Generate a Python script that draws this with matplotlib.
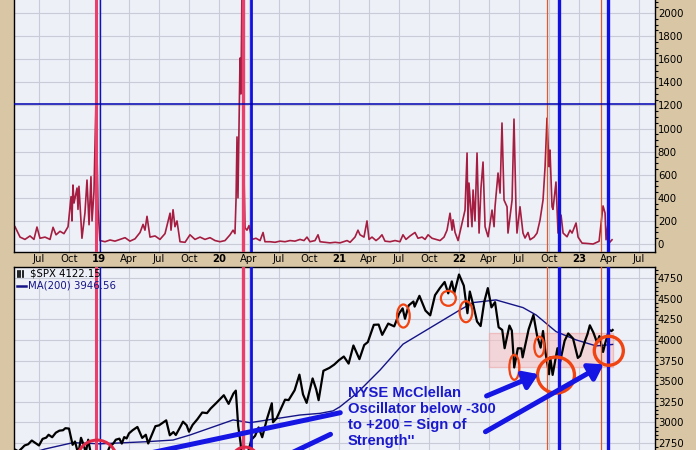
import matplotlib
matplotlib.use('Agg')
import matplotlib.pyplot as plt
from matplotlib.patches import Ellipse, Rectangle, FancyArrowPatch

# --- datos (fecha en anos decimales) ---
osc_t = [2018.300, 2018.342, 2018.383, 2018.425, 2018.458, 2018.483, 2018.508, 2018.550,
         2018.592, 2018.617, 2018.642, 2018.675, 2018.708, 2018.742, 2018.767, 2018.775,
         2018.783, 2018.792, 2018.817, 2018.825, 2018.833, 2018.858, 2018.883, 2018.900,
         2018.917, 2018.933, 2018.942, 2018.958, 2018.975, 2018.983, 2018.992, 2019.008,
         2019.050, 2019.092, 2019.133, 2019.175, 2019.217, 2019.258, 2019.300, 2019.342,
         2019.367, 2019.383, 2019.400, 2019.425, 2019.467, 2019.508, 2019.550, 2019.592,
         2019.600, 2019.617, 2019.633, 2019.650, 2019.675, 2019.717, 2019.758, 2019.800,
         2019.842, 2019.883, 2019.925, 2019.967, 2020.008, 2020.050, 2020.075, 2020.092,
         2020.117, 2020.133, 2020.142, 2020.150, 2020.158, 2020.175, 2020.183, 2020.192,
         2020.200, 2020.208, 2020.217, 2020.233, 2020.250, 2020.275, 2020.308, 2020.342,
         2020.367, 2020.383, 2020.425, 2020.467, 2020.508, 2020.550, 2020.592, 2020.633,
         2020.675, 2020.708, 2020.733, 2020.758, 2020.800, 2020.825, 2020.842, 2020.883,
         2020.925, 2020.967, 2021.008, 2021.067, 2021.092, 2021.133, 2021.158, 2021.175,
         2021.208, 2021.233, 2021.250, 2021.275, 2021.308, 2021.333, 2021.358, 2021.383,
         2021.425, 2021.467, 2021.508, 2021.533, 2021.558, 2021.592, 2021.633, 2021.658,
         2021.692, 2021.717, 2021.742, 2021.775, 2021.808, 2021.842, 2021.875, 2021.900,
         2021.925, 2021.942, 2021.950, 2021.967, 2021.992, 2022.025, 2022.050, 2022.067,
         2022.075, 2022.083, 2022.108, 2022.117, 2022.133, 2022.150, 2022.167, 2022.183,
         2022.200, 2022.217, 2022.242, 2022.275, 2022.292, 2022.300, 2022.325, 2022.342,
         2022.358, 2022.375, 2022.400, 2022.408, 2022.442, 2022.458, 2022.475, 2022.483,
         2022.508, 2022.533, 2022.550, 2022.575, 2022.592, 2022.625, 2022.650, 2022.675,
         2022.700, 2022.717, 2022.733, 2022.750, 2022.758, 2022.775, 2022.783, 2022.808,
         2022.825, 2022.850, 2022.867, 2022.900, 2022.925, 2022.942, 2022.975, 2022.992,
         2023.025, 2023.067, 2023.117, 2023.167, 2023.200, 2023.217, 2023.225, 2023.242,
         2023.250, 2023.275]
osc_v = [150, 60, 40, 70, 40, 147, 50, 60,
         40, 145, 80, 110, 90, 150, 410, 200,
         511, 355, 485, 300, 500, 50, 270, 554,
         167, 583, 200, 450, 1250, 800, 300, 30,
         20, 35, 25, 40, 55, 25, 45, 100,
         170, 120, 240, 60, 70, 40, 90, 267,
         120, 297, 150, 200, 20, 15, 80, 40,
         60, 40, 55, 30, 20, 30, 60, 80,
         120, 90, 390, 927, 400, 1610, 1300, 2300,
         1900, 600, 140, 120, 160, 40, 50, 30,
         100, 20, 20, 15, 25, 20, 30, 25,
         40, 30, 60, 20, 30, 80, 20, 15,
         10, 15, 10, 30, 15, 60, 120, 80,
         60, 200, 40, 60, 30, 50, 80, 25,
         20, 30, 20, 80, 40, 70, 100, 50,
         60, 40, 80, 50, 40, 30, 60, 120,
         267, 120, 210, 100, 30, 182, 294, 788,
         150, 528, 150, 468, 200, 788, 95, 485,
         710, 150, 63, 294, 150, 323, 615, 441,
         1048, 381, 323, 95, 381, 1082, 294, 95,
         323, 95, 52, 100, 37, 60, 95, 208,
         381, 670, 1090, 670, 814, 323, 300, 537,
         95, 251, 95, 63, 120, 95, 182, 60,
         8, 5, 0, 24, 330, 268, 37, 182,
         8, 37]

spx_t = [2018.30, 2018.33, 2018.36, 2018.38, 2018.41, 2018.44, 2018.47, 2018.50, 2018.53, 2018.56,
         2018.58, 2018.61, 2018.64, 2018.67, 2018.70, 2018.72, 2018.75, 2018.78, 2018.80, 2018.82,
         2018.83, 2018.85, 2018.87, 2018.89, 2018.91, 2018.93, 2018.95, 2018.98, 2019.00, 2019.04,
         2019.07, 2019.09, 2019.12, 2019.14, 2019.17, 2019.19, 2019.21, 2019.23, 2019.25, 2019.28,
         2019.32, 2019.36, 2019.39, 2019.41, 2019.45, 2019.47, 2019.50, 2019.53, 2019.56, 2019.59,
         2019.62, 2019.64, 2019.67, 2019.70, 2019.73, 2019.75, 2019.78, 2019.82, 2019.86, 2019.90,
         2019.93, 2019.98, 2020.04, 2020.08, 2020.12, 2020.14, 2020.16, 2020.18, 2020.20, 2020.22,
         2020.24, 2020.27, 2020.30, 2020.33, 2020.36, 2020.40, 2020.44, 2020.45, 2020.48, 2020.50,
         2020.55, 2020.58, 2020.63, 2020.67, 2020.70, 2020.73, 2020.78, 2020.81, 2020.83, 2020.87,
         2020.92, 2020.96, 2021.00, 2021.04, 2021.08, 2021.12, 2021.17, 2021.21, 2021.24, 2021.29,
         2021.33, 2021.36, 2021.41, 2021.46, 2021.50, 2021.53, 2021.55, 2021.58, 2021.62, 2021.63,
         2021.67, 2021.72, 2021.76, 2021.80, 2021.84, 2021.88, 2021.91, 2021.94, 2021.96, 2022.00,
         2022.04, 2022.07, 2022.09, 2022.12, 2022.15, 2022.18, 2022.21, 2022.24, 2022.27, 2022.30,
         2022.33, 2022.36, 2022.38, 2022.42, 2022.44, 2022.46, 2022.49, 2022.52, 2022.53, 2022.58,
         2022.62, 2022.65, 2022.68, 2022.70, 2022.72, 2022.75, 2022.76, 2022.78, 2022.82, 2022.84,
         2022.88, 2022.91, 2022.95, 2022.99, 2023.01, 2023.05, 2023.07, 2023.09, 2023.12, 2023.15,
         2023.17, 2023.20, 2023.22, 2023.25, 2023.27, 2023.28]
spx_v = [2670, 2648, 2690, 2720, 2735, 2780, 2750, 2720, 2800, 2815,
         2850, 2820, 2875, 2900, 2905, 2930, 2925, 2728, 2768, 2656,
         2641, 2813, 2736, 2632, 2790, 2633, 2545, 2351, 2507, 2596,
         2640, 2706, 2745, 2790, 2803, 2743, 2822, 2805, 2867, 2905,
         2945, 2812, 2850, 2744, 2886, 2954, 2964, 2995, 3025, 2844,
         2883, 2847, 2926, 3009, 2966, 2887, 2970, 3039, 3120, 3113,
         3168, 3240, 3330, 3225, 3350, 3386, 2954, 2746, 2386, 2237,
         2630, 2790, 2836, 2939, 2820, 3044, 3232, 3002, 3050, 3115,
         3276, 3271, 3390, 3580, 3340, 3237, 3534, 3400, 3270, 3627,
         3662, 3702, 3756, 3800, 3714, 3934, 3768, 3940, 3975, 4185,
         4188, 4063, 4200, 4166, 4320, 4385, 4258, 4420, 4468, 4406,
         4537, 4358, 4300, 4545, 4630, 4705, 4567, 4712, 4568, 4796,
         4660, 4326, 4589, 4418, 4225, 4170, 4463, 4631, 4397, 4460,
         4155, 4123, 3901, 4176, 4115, 3667, 3900, 3899, 3790, 4130,
         4305, 4057, 3908, 4110, 3855, 3585, 3791, 3577, 3901, 3720,
         3992, 4080, 4019, 3783, 3808, 3990, 4070, 4179, 4090, 3970,
         4048, 3855, 3970, 4124, 4109, 4122.15]

ma_t = [2018.42, 2018.55, 2018.783, 2019.008, 2019.40, 2019.617, 2019.758, 2020.117, 2020.258,
        2020.675, 2020.842, 2020.95, 2021.008, 2021.15, 2021.342, 2021.533, 2022.008, 2022.117,
        2022.308, 2022.533, 2022.642, 2022.808, 2022.975, 2023.142, 2023.28]
ma_v = [2620, 2677, 2754, 2740, 2766, 2786, 2847, 3030, 2997,
        3090, 3110, 3140, 3190, 3356, 3636, 3950, 4366, 4455,
        4487, 4394, 4305, 4103, 4002, 3929, 3946.56]

tick_pos = [2018.5, 2018.75, 2019, 2019.25, 2019.5, 2019.75, 2020, 2020.25, 2020.5, 2020.75,
            2021, 2021.25, 2021.5, 2021.75, 2022, 2022.25, 2022.5, 2022.75, 2023, 2023.25, 2023.5]
tick_lab = ['Jul', 'Oct', '19', 'Apr', 'Jul', 'Oct', '20', 'Apr', 'Jul', 'Oct',
            '21', 'Apr', 'Jul', 'Oct', '22', 'Apr', 'Jul', 'Oct', '23', 'Apr', 'Jul']

# lineas verticales: (fecha, color, grosor)
vlines = [(2018.971, '#e8406a', 2.2), (2019.008, '#1010c0', 1.0),
          (2020.203, '#e8406a', 2.4), (2020.264, '#1010e0', 2.0),
          (2022.736, '#e05a30', 0.9), (2022.831, '#1010e0', 2.4),
          (2023.186, '#e05a30', 0.9), (2023.242, '#1010e0', 2.4)]

beige = '#d9c6a5'
fondo = '#eef0f8'
rejilla = '#c9cbd6'

fig = plt.figure(figsize=(6.96, 4.5), dpi=100, facecolor=beige)
ax1 = fig.add_axes([14/696, 1 - 252/450, 641/696, 252/450])
ax2 = fig.add_axes([14/696, 0, 641/696, 183/450])

for ax in (ax1, ax2):
    ax.set_facecolor(fondo)
    ax.set_xlim(2018.2917, 2023.633)
    ax.set_xticks(tick_pos)
    ax.grid(True, color=rejilla, lw=0.8)
    ax.set_axisbelow(True)
    ax.yaxis.tick_right()
    ax.tick_params(axis='y', labelsize=7.3, pad=2, length=0)
    ax.tick_params(axis='y', which='minor', length=2, width=0.8, direction='out')
    for s in ax.spines.values():
        s.set_color('black')
        s.set_linewidth(1.0)
    for x, c, w in vlines:
        ax.axvline(x, color=c, lw=w, zorder=3)

# panel superior
ax1.plot(osc_t, osc_v, color='#a51d40', lw=1.2, zorder=2)
ax1.axhline(1213, color='#0000b0', lw=1.1, zorder=3)
ax1.set_ylim(-69, 2113)
ax1.set_yticks(range(0, 2001, 200))
ax1.set_yticks(range(0, 2101, 50), minor=True)
ax1.spines['top'].set_visible(False)
ax1.tick_params(axis='x', length=0, pad=1.5, labelsize=7.3)
ax1.set_xticklabels(tick_lab)
for lab in ax1.get_xticklabels():
    if lab.get_text().isdigit():
        lab.set_fontweight('bold')

# panel inferior
ax2.add_patch(Rectangle((2022.25, 3669), 1.03, 420, facecolor='#f6c4c4', alpha=0.6,
                        edgecolor='#eaa6a6', lw=1, zorder=1.5))
ax2.plot(ma_t, ma_v, color='#141486', lw=1.0, zorder=2)
ax2.plot(spx_t, spx_v, color='black', lw=1.6, zorder=2)
ax2.set_ylim(2665, 4887)
ax2.set_yticks(range(2750, 4751, 250))
ax2.set_yticks(range(2700, 4851, 50), minor=True)
ax2.spines['bottom'].set_visible(False)
ax2.tick_params(axis='x', length=0, labelbottom=False)

# circulos
naranja = '#f04412'
circulos = [(2022.808, 3575, 0.308, 437, 2.4), (2023.248, 3870, 0.242, 352, 2.4),
            (2022.058, 4344, 0.106, 255, 1.6), (2022.461, 3669, 0.083, 304, 1.6),
            (2022.669, 3919, 0.083, 243, 1.6), (2021.536, 4292, 0.106, 280, 1.6),
            (2021.911, 4507, 0.125, 182, 1.6)]
for cx, cy, w, h, lw in circulos:
    ax2.add_patch(Ellipse((cx, cy), w, h, fill=False, edgecolor=naranja, lw=lw, zorder=4))
for cx, cy, w, h in [(2018.983, 2542, 0.333, 486), (2020.217, 2542, 0.217, 316)]:
    ax2.add_patch(Ellipse((cx, cy), w, h, fill=False, edgecolor='#e02848', lw=2.2, zorder=4))

# flechas azules
azul = '#1616e4'
flechas = [((2021.033, 3125), (2018.675, 2396)), ((2020.95, 2870), (2020.258, 2388)),
           ((2022.208, 3308), (2022.683, 3599)), ((2022.200, 2870), (2023.225, 3721))]
for a, b in flechas:
    ax2.add_patch(FancyArrowPatch(a, b, arrowstyle='-|>,head_length=0.6,head_width=0.4',
                                  mutation_scale=14, lw=3.6, color=azul, zorder=5))

ax2.text(2021.075, 3445, "NYSE McClellan\nOscillator below -300\nto +200 = Sign of\nStrength''",
         color='#1a1acc', fontsize=10.6, fontweight='bold', family='Liberation Sans',
         ha='left', va='top', linespacing=1.18, zorder=6)

# leyenda
ax2.text(0.025, 0.962, '$SPX 4122.15', transform=ax2.transAxes, fontsize=7.3,
         ha='left', va='center', color='black', zorder=6)
ax2.text(0.022, 0.898, 'MA(200) 3946.56', transform=ax2.transAxes, fontsize=7.3,
         ha='left', va='center', color='#141486', zorder=6)
ax2.plot([0.004, 0.018], [0.898, 0.898], transform=ax2.transAxes, color='#141486', lw=1.8, zorder=6)
for xi in (0.006, 0.010, 0.014):
    ax2.plot([xi, xi], [0.945, 0.98], transform=ax2.transAxes, color='black', lw=1.2, zorder=6)

fig.savefig('out.png', dpi=100, facecolor=beige)
